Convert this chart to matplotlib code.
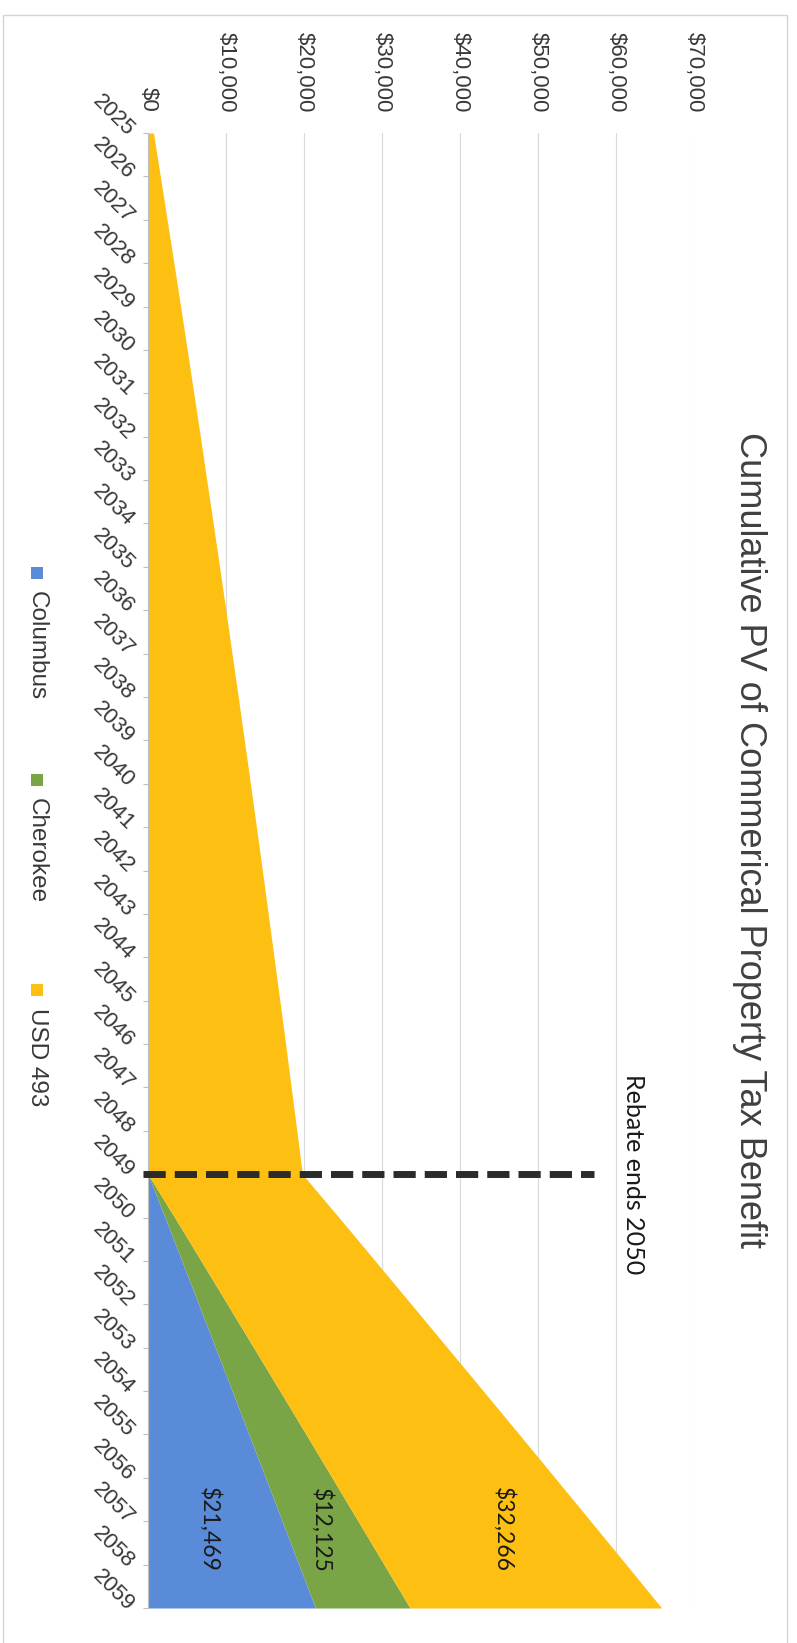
import matplotlib.pyplot as plt
import numpy as np
from matplotlib.patches import Rectangle

plt.rcParams['font.family'] = ['Liberation Sans', 'DejaVu Sans']

# Data (cumulative PV, $)
years = list(range(2025, 2060))
columbus = [0, 0, 0, 0, 0, 0, 0, 0, 0, 0, 0, 0, 0, 0, 0, 0, 0, 0, 0, 0, 0, 0, 0, 0, 0,
            2190, 4350, 6500, 8650, 10800, 12940, 15080, 17210, 19340, 21469]
cherokee = [0, 0, 0, 0, 0, 0, 0, 0, 0, 0, 0, 0, 0, 0, 0, 0, 0, 0, 0, 0, 0, 0, 0, 0, 0,
            1240, 2460, 3680, 4900, 6120, 7330, 8530, 9730, 10930, 12125]
usd_493 = [700, 1580, 2450, 3320, 4180, 5030, 5870, 6710, 7530, 8360,
           9170, 9980, 10770, 11570, 12350, 13130, 13900, 14660, 15410, 16160,
           16900, 17640, 18360, 19080, 19790,
           21060, 22320, 23580, 24830, 26080, 27330, 28570, 29810, 31040, 32266]
series_names = ['Columbus', 'Cherokee', 'USD 493']
colors = ['#5a8bd8', '#7aa547', '#fdbf12']
value_ticks = [0, 10000, 20000, 30000, 40000, 50000, 60000, 70000]
rebate_year = 2049

# stacked boundaries
c1 = np.array(columbus)
c2 = c1 + np.array(cherokee)
c3 = c2 + np.array(usd_493)

fig = plt.figure(figsize=(7.97, 16.43), dpi=100)
fig.patch.set_facecolor('white')

# chart border
fig.patches.append(Rectangle((3 / 797, -0.01), 784 / 797, 1 - 15 / 1643 + 0.01,
                             transform=fig.transFigure, fill=False,
                             edgecolor='#d4d4d4', linewidth=1))

# the chart is drawn turned a quarter turn: years run down, values run right
ax = fig.add_axes([148 / 797, 1 - 1608 / 1643, 546 / 797, (1608 - 133) / 1643])

ax.fill_betweenx(years, 0, c1, color=colors[0], linewidth=0, zorder=2)
ax.fill_betweenx(years, c1, c2, color=colors[1], linewidth=0, zorder=2)
ax.fill_betweenx(years, c2, c3, color=colors[2], linewidth=0, zorder=2)

ax.set_xlim(0, 70000)
ax.set_ylim(years[-1], years[0])

# value axis (top)
ax.xaxis.tick_top()
ax.set_xticks(value_ticks)
ax.set_xticklabels([f'${v:,.0f}' for v in value_ticks], rotation=-90,
                   fontsize=16, color='#383838')
ax.tick_params(axis='x', length=0, pad=15)
ax.grid(axis='x', color='#d9d9d9', linewidth=0.8, zorder=0)
ax.set_axisbelow(True)

# year axis (left)
ax.set_yticks(years)
ax.set_yticklabels([str(y) for y in years], rotation=-45, ha='right',
                   va='center', rotation_mode='anchor', fontsize=16, color='#383838')
ax.tick_params(axis='y', length=3.6, width=0.8, color='#bfbfbf', direction='out', pad=9)

for s in ['top', 'right', 'bottom']:
    ax.spines[s].set_visible(False)
ax.spines['left'].set_color('#bfbfbf')
ax.spines['left'].set_linewidth(0.8)

# rebate marker
ax.plot([-600, 57200], [rebate_year, rebate_year], color='#2b2b2b', linewidth=5,
        linestyle=(0, (3.2, 1.3)), clip_on=False, zorder=4)
ax.text(62300, rebate_year, 'Rebate ends 2050', rotation=-90, ha='center', va='center',
        fontsize=18, family=['Lato', 'DejaVu Sans'], color='#1a1a1a')

# end-value labels
label_year = 2057.2
label_x = [7800, 22200, 45500]
for x, v in zip(label_x, [columbus[-1], cherokee[-1], usd_493[-1]]):
    ax.text(x, label_year, f'${v:,.0f}', rotation=-90, ha='center', va='center',
            fontsize=16.5, family=['Lato', 'DejaVu Sans'], color='#1a1a1a', zorder=5)

# title
fig.text(749 / 797, 1 - 840 / 1643, 'Cumulative PV of Commerical Property Tax Benefit',
         rotation=-90, ha='center', va='center', fontsize=26, color='#404040')

# legend, drawn by hand so it can turn with the chart
legend_y = [573, 780, 990]
sq = 12
for name, col, y in zip(series_names, colors, legend_y):
    fig.patches.append(Rectangle(((37 - sq / 2) / 797, 1 - (y + sq / 2) / 1643),
                                 sq / 797, sq / 1643, transform=fig.transFigure,
                                 facecolor=col, edgecolor='none'))
    fig.text(37 / 797, 1 - (y + sq / 2 + 12) / 1643, name, rotation=-90,
             ha='center', va='top', fontsize=17.5, color='#383838')

plt.savefig('out.png', dpi=100, facecolor='white')
